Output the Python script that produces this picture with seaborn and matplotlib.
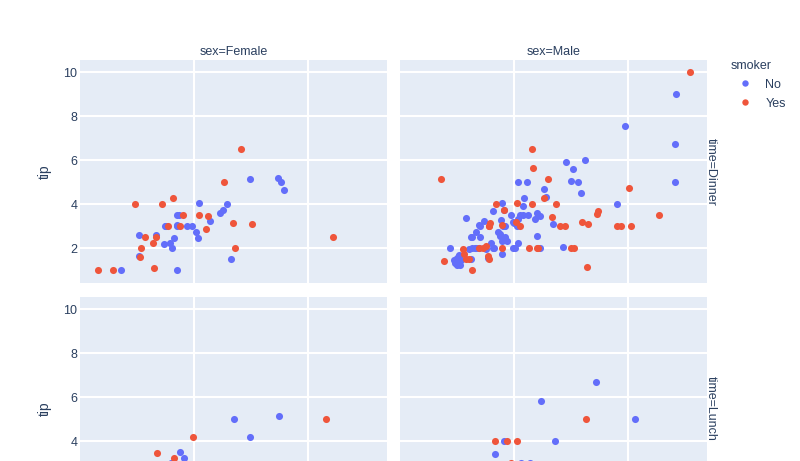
import matplotlib
matplotlib.use("Agg")
import matplotlib.pyplot as plt
from matplotlib.lines import Line2D
import seaborn as sns
import pandas as pd

# ---- data (tips) ----
total_bill = [16.99,10.34,21.01,23.68,24.59,25.29,8.77,26.88,15.04,14.78,10.27,35.26,15.42,18.43,14.83,21.58,10.33,16.29,16.97,20.65,
17.92,20.29,15.77,39.42,19.82,17.81,13.37,12.69,21.7,19.65,9.55,18.35,15.06,20.69,17.78,24.06,16.31,16.93,18.69,31.27,
16.04,17.46,13.94,9.68,30.4,18.29,22.23,32.4,28.55,18.04,12.54,10.29,34.81,9.94,25.56,19.49,38.01,26.41,11.24,48.27,
20.29,13.81,11.02,18.29,17.59,20.08,16.45,3.07,20.23,15.01,12.02,17.07,26.86,25.28,14.73,10.51,17.92,27.2,22.76,17.29,
19.44,16.66,10.07,32.68,15.98,34.83,13.03,18.28,24.71,21.16,28.97,22.49,5.75,16.32,22.75,40.17,27.28,12.03,21.01,12.46,
11.35,15.38,44.3,22.42,20.92,15.36,20.49,25.21,18.24,14.31,14.0,7.25,38.07,23.95,25.71,17.31,29.93,10.65,12.43,24.08,
11.69,13.42,14.26,15.95,12.48,29.8,8.52,14.52,11.38,22.82,19.08,20.27,11.17,12.26,18.26,8.51,10.33,14.15,16.0,13.16,
17.47,34.3,41.19,27.05,16.43,8.35,18.64,11.87,9.78,7.51,14.07,13.13,17.26,24.55,19.77,29.85,48.17,25.0,13.39,16.49,
21.5,12.66,16.21,13.81,17.51,24.52,20.76,31.71,10.59,10.63,50.81,15.81,7.25,31.85,16.82,32.9,17.89,14.48,9.6,34.63,
34.65,23.33,45.35,23.17,40.55,20.69,20.9,30.46,18.15,23.1,15.69,19.81,28.44,15.48,16.58,7.56,10.34,43.11,13.0,13.51,
18.71,12.74,13.0,16.4,20.53,16.47,26.59,38.73,24.27,12.76,30.06,25.89,48.33,13.27,28.17,12.9,28.15,11.59,7.74,30.14,
12.16,13.42,8.58,15.98,13.42,16.27,10.09,20.45,13.28,22.12,24.01,15.69,11.61,10.77,15.53,10.07,12.6,32.83,35.83,29.03,
27.18,22.67,17.82,18.78]

tip = [1.01,1.66,3.5,3.31,3.61,4.71,2.0,3.12,1.96,3.23,1.71,5.0,1.57,3.0,3.02,3.92,1.67,3.71,3.5,3.35,
4.08,2.75,2.23,7.58,3.18,2.34,2.0,2.0,4.3,3.0,1.45,2.5,3.0,2.45,3.27,3.6,2.0,3.07,2.31,5.0,
2.24,2.54,3.06,1.32,5.6,3.0,5.0,6.0,2.05,3.0,2.5,2.6,5.2,1.56,4.34,3.51,3.0,1.5,1.76,6.73,
3.21,2.0,1.98,3.76,2.64,3.15,2.47,1.0,2.01,2.09,1.97,3.0,3.14,5.0,2.2,1.25,3.08,4.0,3.0,2.71,
3.0,3.4,1.83,5.0,2.03,5.17,2.0,4.0,5.85,3.0,3.0,3.5,1.0,4.3,3.25,4.73,4.0,1.5,3.0,1.5,
2.5,3.0,2.5,3.48,4.08,1.64,4.06,4.29,3.76,4.0,3.0,1.0,4.0,2.55,4.0,3.5,5.07,1.5,1.8,2.92,
2.31,1.68,2.5,2.0,2.52,4.2,1.48,2.0,2.0,2.18,1.5,2.83,1.5,2.0,3.25,1.25,2.0,2.0,2.0,2.75,
3.5,6.7,5.0,5.0,2.3,1.5,1.36,1.63,1.73,2.0,2.5,2.0,2.74,2.0,2.0,5.14,5.0,3.75,2.61,2.0,
3.5,2.5,2.0,2.0,3.0,3.48,2.24,4.5,1.61,2.0,10.0,3.16,5.15,3.18,4.0,3.11,2.0,2.0,4.0,3.55,
3.68,5.65,3.5,6.5,3.0,5.0,3.5,2.0,3.5,4.0,1.5,4.19,2.56,2.02,4.0,1.44,2.0,5.0,2.0,2.0,
4.0,2.01,2.0,2.5,4.0,3.23,3.41,3.0,2.03,2.23,2.0,5.16,9.0,2.5,6.5,1.1,3.0,1.5,1.44,3.09,
2.2,3.48,1.92,3.0,1.58,2.5,2.0,3.0,2.72,2.88,2.0,3.0,3.39,1.47,3.0,1.25,1.0,1.17,4.67,5.92,
2.0,2.0,1.75,3.0]

# one letter per row, in groups of ten rows
sex_code = "".join("""
FMMMFMMMMM MFMMFMFMFM MFFMMMMMMF MMFFMMMFMM MMMMMMMMMM MFFMMMMFMM MMMMMMFFMM MFFFFMMMMM
MMFMMFMMMM MMFFFMMMMM FFFFFMMMMF MFMMFFMFFF MFMMFFMFFM MFFFFFFFMF FMMFFFFFMM MMMMMFMFFM
MMFMFMMMFF MMMMMMMMFM MMMMMMFMFM MFMMMMMFFM MFFFMFMMMF MMMFFFMMMF MFMFMFFMMF MMMMMMMMFM
FMMF""".split())
smoker_code = "".join("""
NNNNNNNNNN NNNNNNNNNN NNNNNNNNNN NNNNNNNNNN NNNNNNNNNN NNNNNNYNYN YYYYNNNYNY NNYYNNYNNN
YNNYNNNNNN YNYYNYYYYN YYYYNYYYNY NNNNNNNNNN NNNNNNNNNN NNNNNNNNYN NNNNNNNNNN NNNNNNNNNN
NNNNYNNNYY YYYYYYYYYY YYYYYNYYYY YYYYYNYYYY YYYYYYYYYY YYNYYYYYYY YYYNYYYNNY YYNNYNYYNN
YYNN""".split())
time_code = "".join("""
DDDDDDDDDD DDDDDDDDDD DDDDDDDDDD DDDDDDDDDD DDDDDDDDDD DDDDDDDDDD DDDDDDDDDD DDDDDDDLLL
LLLLLLLLLL DDDDDDDDDD DDDDDDDDDD DDDDDDDLLL LLLLLLLLLL LLLLLLLLLL LLLLLLLLLL DDDDDDDDDD
DDDDDDDDDD DDDDDDDDDD DDDDDDDDDD DLLLLLLLLL LLLLLLDDDD DDDDDDDDDD LLLLLLLDDD DDDDDDDDDD
DDDD""".split())

sex_names = {"F": "Female", "M": "Male"}
smoker_names = {"N": "No", "Y": "Yes"}
time_names = {"D": "Dinner", "L": "Lunch"}

df = pd.DataFrame({
    "total_bill": total_bill,
    "tip": tip,
    "sex": [sex_names[c] for c in sex_code],
    "smoker": [smoker_names[c] for c in smoker_code],
    "time": [time_names[c] for c in time_code],
})

col_order = ["Female", "Male"]
row_order = ["Dinner", "Lunch"]
smoker_order = ["No", "Yes"]
palette = {"No": "#636efa", "Yes": "#EF553B"}

# ---- styling ----
sns.set_theme(style="white")
TXT = "#2a3f5f"
plt.rcParams["font.family"] = ["Liberation Sans", "DejaVu Sans"]

W, H = 800, 461
fig = plt.figure(figsize=(W / 100, H / 100), dpi=100)
fig.patch.set_facecolor("white")

def px_axes(x0, y0, w, h):
    return fig.add_axes([x0 / W, 1 - (y0 + h) / H, w / W, h / H])

col_x = [80, 400]
row_y = [60, 297]
pw, ph = 307, 223

for ri, tm in enumerate(row_order):
    for ci, sx in enumerate(col_order):
        ax = px_axes(col_x[ci], row_y[ri], pw, ph)
        ax.set_facecolor("#E5ECF6")
        for sp in ax.spines.values():
            sp.set_visible(False)
        sub = df[(df["time"] == tm) & (df["sex"] == sx)]
        for sm in smoker_order:
            d = sub[sub["smoker"] == sm]
            sns.scatterplot(data=d, x="total_bill", y="tip", color=palette[sm],
                            s=26, linewidth=0, ax=ax, legend=False, zorder=3)
        ax.set_xlim(0.0, 53.85)
        ax.set_ylim(0.42, 10.56)
        ax.set_xticks([20, 40])
        ax.set_yticks([2, 4, 6, 8, 10] if ri == 0 else [4, 6, 8, 10])
        ax.grid(True, color="white", linewidth=1.5)
        ax.set_axisbelow(True)
        ax.tick_params(length=0, labelbottom=False, labelleft=(ci == 0),
                       labelsize=9, labelcolor=TXT, pad=2)
        ax.set_xlabel("")
        if ci == 0:
            ax.set_ylabel("tip", fontsize=10, color=TXT, va="center")
            ax.yaxis.set_label_coords((45 - 80) / pw, 0.5)
        else:
            ax.set_ylabel("")
        if ri == 0:
            ax.text(0.5, 1 + 7.5 / ph, f"sex={sx}", transform=ax.transAxes,
                    ha="center", va="center", fontsize=9, color=TXT)
        if ci == 1:
            ax.text(1 + 3.5 / pw, 0.5, f"time={tm}", transform=ax.transAxes,
                    ha="center", va="center", rotation=-90, fontsize=9, color=TXT)

handles = [Line2D([], [], marker="o", ls="", color=palette[s], markersize=4.6,
                  markeredgewidth=0) for s in smoker_order]
leg = fig.legend(handles, smoker_order, title="smoker", loc="upper left",
                 bbox_to_anchor=(731 / W, 1 - 60 / H), frameon=False,
                 borderpad=0, borderaxespad=0, handlelength=2.3, handletextpad=0.45,
                 labelspacing=0.55, fontsize=9, title_fontsize=9, alignment="left")
for t in leg.get_texts():
    t.set_color(TXT)
leg.get_title().set_color(TXT)

fig.savefig("out.png", dpi=100, facecolor="white")
